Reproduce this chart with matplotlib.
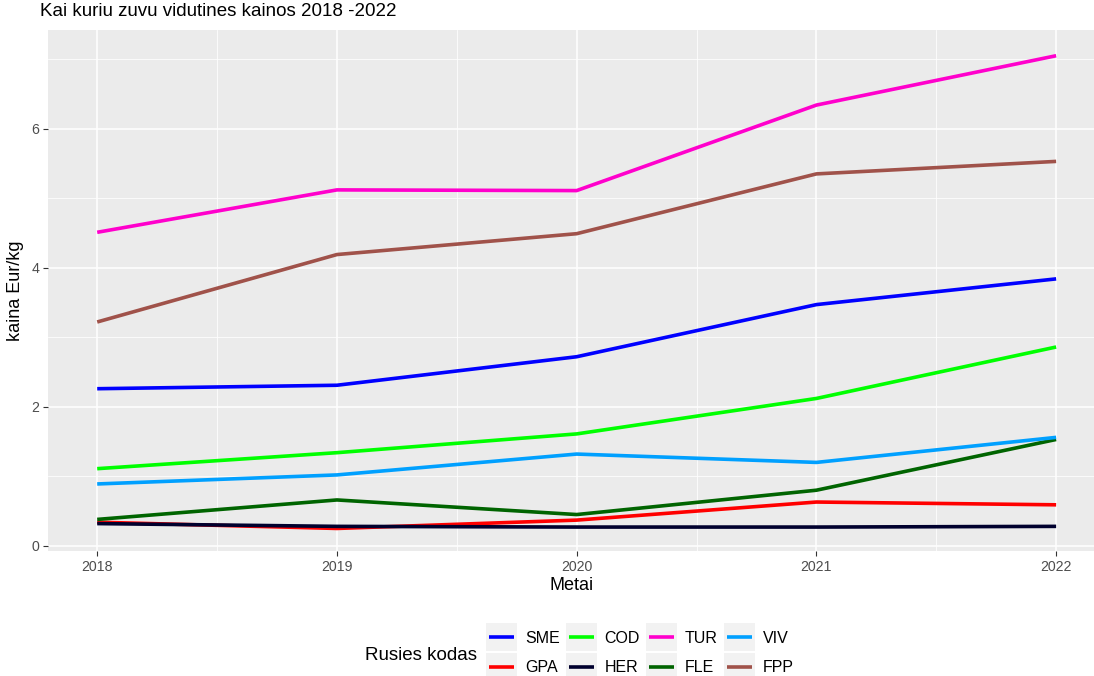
import matplotlib
matplotlib.use("Agg")
import matplotlib.pyplot as plt
from matplotlib.patches import Rectangle

years = [2018, 2019, 2020, 2021, 2022]
species = ["SME", "GPA", "COD", "HER", "TUR", "FLE", "VIV", "FPP"]
sme = [2.26, 2.31, 2.72, 3.47, 3.84]
gpa = [0.34, 0.25, 0.37, 0.63, 0.59]
cod = [1.11, 1.34, 1.61, 2.12, 2.86]
her = [0.32, 0.28, 0.27, 0.27, 0.28]
tur = [4.51, 5.12, 5.11, 6.34, 7.05]
fle = [0.38, 0.66, 0.45, 0.80, 1.53]
viv = [0.89, 1.02, 1.32, 1.20, 1.56]
fpp = [3.22, 4.19, 4.49, 5.35, 5.53]
colors = ["#0000FF", "#FF0000", "#00FF00", "#00002E",
          "#FF00CC", "#006400", "#00A0FF", "#A0524A"]

series = [sme, gpa, cod, her, tur, fle, viv, fpp]

plt.rcParams["font.family"] = ["Liberation Sans", "DejaVu Sans"]

fig = plt.figure(figsize=(10.94, 6.76), dpi=100)
ax = fig.add_axes([48.3 / 1094, 1 - 550.7 / 676, 1 - 48.3 / 1094, (550.7 - 30) / 676])
ax.set_facecolor("#EBEBEB")
for s in ax.spines.values():
    s.set_visible(False)

lines = []
for name, vals, c in zip(species, series, colors):
    ln, = ax.plot(years, vals, color=c, lw=2.6, label=name, solid_capstyle="butt")
    lines.append(ln)

ax.set_xlim(2017.796, 2022.158)
ax.set_ylim(-0.07, 7.42)
ax.set_xticks(years)
ax.set_xticks([2018.5, 2019.5, 2020.5, 2021.5], minor=True)
ax.set_yticks([0, 2, 4, 6])
ax.set_yticks([1, 3, 5, 7], minor=True)
ax.grid(which="major", color="white", lw=1.1)
ax.grid(which="minor", color="white", lw=0.55)
ax.set_axisbelow(True)
ax.tick_params(which="major", length=3.5, width=0.8, color="#333333",
               labelcolor="#4D4D4D", labelsize=10.2, pad=3)
ax.tick_params(which="minor", length=0)

ax.set_xlabel("Metai", fontsize=13, labelpad=2)
ax.set_ylabel("kaina Eur/kg", fontsize=13, labelpad=5)
fig.text(40 / 1094, 1 - 12 / 676, "Kai kuriu zuvu vidutines kainos 2018 -2022",
         fontsize=13.5, va="center", ha="left")

leg = fig.legend(handles=lines, ncol=4, loc="center left",
                 bbox_to_anchor=(489 / 1094, 1 - 653 / 676),
                 frameon=False, fontsize=11.5, handlelength=1.56,
                 handletextpad=0.7, columnspacing=0.55, labelspacing=0.93,
                 borderpad=0, borderaxespad=0)
fig.text(365 / 1094, 1 - 655 / 676, "Rusies kodas", fontsize=13.5,
         va="center", ha="left")

# grey key backgrounds like ggplot
fig.canvas.draw()
for h in leg.legend_handles:
    bb = h.get_window_extent()
    cx = (bb.x0 + bb.x1) / 2
    cy = (bb.y0 + bb.y1) / 2
    fig.patches.append(Rectangle(((cx - 15.5) / 1094, (cy - 14) / 676), 31 / 1094, 28 / 676,
                                 transform=fig.transFigure, facecolor="#F2F2F2",
                                 edgecolor="none", zorder=-1))

fig.savefig("out.png", dpi=100)
